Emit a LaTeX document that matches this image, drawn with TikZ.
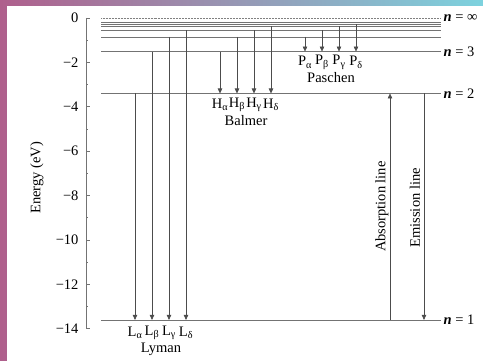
\documentclass[tikz,border=0pt]{standalone}
\usepackage{fontspec}
\setmainfont{Liberation Serif}
\usetikzlibrary{arrows.meta, positioning}
\definecolor{levelGray}{gray}{0.45}
\definecolor{arrowGray}{gray}{0.3}
\definecolor{edgeMauve}{RGB}{175,95,140}
\definecolor{edgeLilac}{RGB}{150,125,175}
\definecolor{edgeCyan}{RGB}{125,210,222}

\begin{document}
\begin{tikzpicture}[
    x=1pt, y=22.2pt,
    every node/.style={font=\fontsize{14.5}{17}\selectfont},
    level/.style={levelGray, line width=0.65pt},
    nlabel/.style={anchor=west, inner sep=2.5pt},
    trans/.style={arrowGray, line width=0.6pt, -{Triangle[length=5pt, width=4.5pt]}},
    >=Stealth
  ]
  \useasboundingbox (0, 0.81) rectangle (483, -15.45);

  % ── Frame ──────────────────────────────────────────────────────────────
  \shade[left color=edgeMauve, middle color=edgeLilac, right color=edgeCyan]
    (0, 0.81) rectangle (483, -15.45);
  \fill[white] (7, 0.54) rectangle (483, -15.45);

  % ── Energy axis ────────────────────────────────────────────────────────
  \draw[level] (86, 0) -- (86, -14);
  \foreach \e/\t in {0/0, -2/−2, -4/−4, -6/−6, -8/−8, -10/−10, -12/−12, -14/−14} {
    \draw[level] (86, \e) -- (90, \e);
    \node[anchor=east] (tick\e) at (82, \e) {\t};
  }
  \foreach \e in {-1, -3, ..., -13}
    \draw[level] (86, \e) -- (88, \e);
  \node[rotate=90] (ylabel) at (37, -7.2) {Energy (eV)};

  % ── Levels ─────────────────────────────────────────────────────────────
  \foreach \n/\e in {1/-13.6, 2/-3.4, 3/-1.511, 4/-0.85, 5/-0.544, 6/-0.378, 7/-0.278, 8/-0.2125} {
    \coordinate (n\n L) at (101, \e);
    \coordinate (n\n R) at (441, \e);
    \draw[level] (n\n L) -- (n\n R);
  }
  \coordinate (ninfL) at (101, 0);
  \coordinate (ninfR) at (441, 0);
  \draw[gray, line width=0.5pt, dash pattern=on 0.6pt off 0.9pt] (ninfL) -- (ninfR);

  \node[nlabel] (lab-inf) at (ninfR) {\textbf{\textit{n}} = ∞};
  \node[nlabel] (lab-3) at (n3R) {\textbf{\textit{n}} = 3};
  \node[nlabel] (lab-2) at (n2R) {\textbf{\textit{n}} = 2};
  \node[nlabel] (lab-1) at (n1R) {\textbf{\textit{n}} = 1};

  % ── Lyman: down to n = 1 ───────────────────────────────────────────────
  \foreach \s/\x/\e/\g in {a/135/-3.4/α, b/152/-1.511/β, c/169/-0.85/γ, d/186/-0.544/δ} {
    \coordinate (L\s-top) at (\x, \e);
    \coordinate (L\s-bot) at (\x, -13.6);
    \draw[trans] (L\s-top) -- (L\s-bot);
    \node (L\s-lab) at (\x, -14.18) {L\textsubscript{\g}};
  }
  \node (lyman) at (161, -14.92) {Lyman};

  % ── Balmer: down to n = 2 ──────────────────────────────────────────────
  \foreach \s/\x/\e/\g in {a/220/-1.511/α, b/237/-0.85/β, c/254/-0.544/γ, d/271/-0.378/δ} {
    \coordinate (H\s-top) at (\x, \e);
    \coordinate (H\s-bot) at (\x, -3.4);
    \draw[trans] (H\s-top) -- (H\s-bot);
    \node (H\s-lab) at (\x, -3.92) {H\textsubscript{\g}};
  }
  \node (balmer) at (246, -4.6) {Balmer};

  % ── Paschen: down to n = 3 ─────────────────────────────────────────────
  \foreach \s/\x/\e/\g in {a/305/-0.85/α, b/322/-0.544/β, c/339/-0.378/γ, d/356/-0.278/δ} {
    \coordinate (P\s-top) at (\x, \e);
    \coordinate (P\s-bot) at (\x, -1.511);
    \draw[trans] (P\s-top) -- (P\s-bot);
    \node (P\s-lab) at (\x, -2.0) {P\textsubscript{\g}};
  }
  \node (paschen) at (331, -2.7) {Paschen};

  % ── Absorption and emission between n = 1 and n = 2 ────────────────────
  \coordinate (abs-bot) at (390, -13.6);
  \coordinate (abs-top) at (390, -3.4);
  \draw[trans] (abs-bot) -- (abs-top);
  \node[rotate=90] (abs-lab) at (382, -8.5) {Absorption line};

  \coordinate (emi-top) at (424, -3.4);
  \coordinate (emi-bot) at (424, -13.6);
  \draw[trans] (emi-top) -- (emi-bot);
  \node[rotate=90] (emi-lab) at (415, -8.55) {Emission line};

\end{tikzpicture}
\end{document}
